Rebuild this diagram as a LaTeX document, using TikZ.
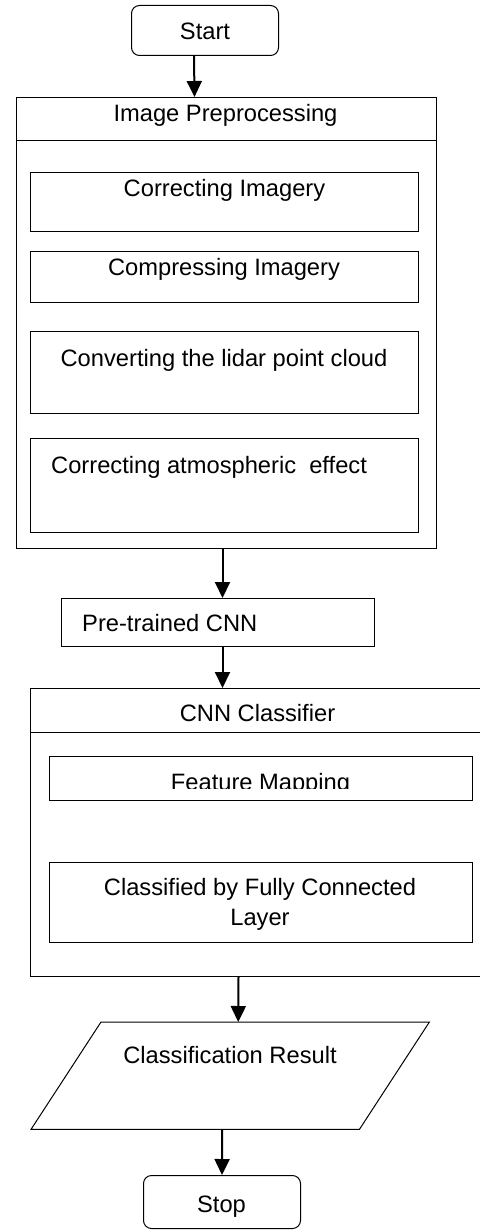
\documentclass[tikz,border=0pt]{standalone}
\usepackage{fontspec}
\setmainfont{Liberation Sans}
\usetikzlibrary{arrows.meta}
\begin{document}
\begin{tikzpicture}[x=1pt,y=-1pt,
  box/.style={draw, line width=1pt, inner sep=0pt, anchor=north west},
  lbl/.style={font=\fontsize{23.7}{30}\selectfont, inner sep=0pt, anchor=base},
  lblw/.style={font=\fontsize{23.7}{30}\selectfont, inner sep=0pt, anchor=base west},
  arr/.style={-{Triangle[length=16pt,width=15pt]}, line width=2pt}]
\useasboundingbox (0,0) rectangle (479,1230);

% Start
\node[box, rounded corners=8pt, minimum width=147pt, minimum height=50pt] (start) at (131,5) {};
\node[lbl] (tstart) at (205,40) {Start};

% Image Preprocessing group
\node[box, minimum width=420pt, minimum height=451pt] (pre) at (16,97) {};
\draw[line width=1pt] ([yshift=-44pt]pre.north west) -- ([yshift=-44pt]pre.north east);
\node[lbl] (tpre) at (225.5,122) {Image Preprocessing};

\node[box, minimum width=388pt, minimum height=59pt] (ci) at (30,172) {};
\node[lbl] (tci) at (224.5,197) {Correcting Imagery};

\node[box, minimum width=388pt, minimum height=51pt] (cmp) at (30,251) {};
\node[lbl] (tcmp) at (224,276) {Compressing Imagery};

\node[box, minimum width=388pt, minimum height=82pt] (cv) at (30,331) {};
\node[lbl] (tcv) at (224,366) {Converting the lidar point cloud};

\node[box, minimum width=388pt, minimum height=94pt] (ca) at (30,438) {};
\node[lblw] (tca) at (51,473) {Correcting atmospheric\ \ effect};

% Pre-trained CNN
\node[box, minimum width=313pt, minimum height=48pt] (cnn) at (61,598) {};
\node[lblw] (tcnn) at (82,631) {Pre-trained CNN};

% CNN Classifier group (open to the right edge)
\node[box, minimum width=470pt, minimum height=288pt] (cls) at (30,688) {};
\draw[line width=1pt] ([yshift=-44pt]cls.north west) -- ([yshift=-44pt]cls.north east);
\node[lbl] (tcls) at (257.5,721) {CNN Classifier};

\node[box, minimum width=423pt, minimum height=44pt] (fm) at (49,756) {};
\begin{scope}
  \clip (49,756) rectangle (472,788.5);
  \node[lbl] (tfm) at (260.5,790) {Feature Mapping};
\end{scope}

\node[box, minimum width=423pt, minimum height=80pt] (fc) at (49,862) {};
\node[lbl] (tfc1) at (260,895) {Classified by Fully Connected};
\node[lbl] (tfc2) at (260,925) {Layer};

% Classification Result (parallelogram)
\node[anchor=north west, inner sep=0pt, minimum width=398pt, minimum height=107pt] (res) at (31,1022) {};
\draw[line width=1pt] ([xshift=70pt]res.north west) -- (res.north east)
  -- ([xshift=-70pt]res.south east) -- (res.south west) -- cycle;
\node[lbl] (tres) at (230,1063) {Classification Result};

% Stop
\node[box, rounded corners=8pt, minimum width=157pt, minimum height=53pt] (stop) at (143,1175) {};
\node[lbl] (tstop) at (221.5,1212) {Stop};

% Connectors
\draw[arr] ([xshift=-11pt]start.south) -- ([xshift=-32pt]pre.north);
\draw[arr] ([xshift=-4pt]pre.south) -- ([xshift=4.5pt]cnn.north);
\draw[arr] ([xshift=4.5pt]cnn.south) -- ([xshift=-43pt]cls.north);
\draw[arr] ([xshift=-27pt]cls.south) -- ([xshift=8pt]res.north);
\draw[arr] ([xshift=-8pt]res.south) -- ([xshift=0pt]stop.north);
\end{tikzpicture}
\end{document}
